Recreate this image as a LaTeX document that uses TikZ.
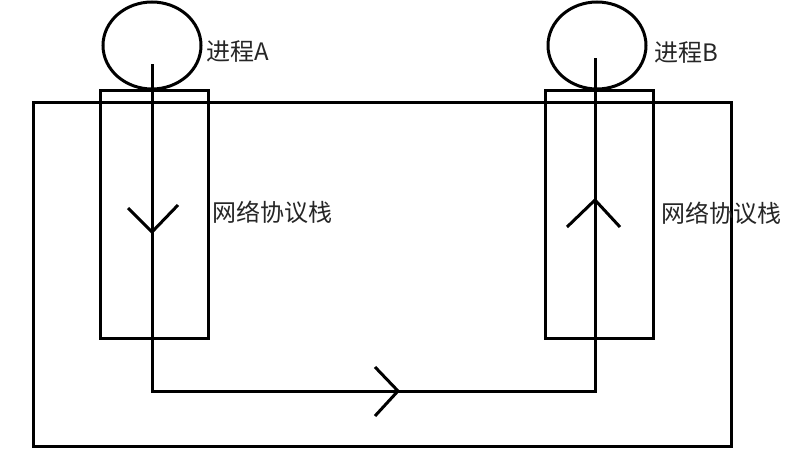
\documentclass[tikz,border=0pt]{standalone}
\usepackage{fontspec}
\newfontfamily\cjk{Noto Sans CJK SC}
\usetikzlibrary{shapes.geometric}
\begin{document}
\begin{tikzpicture}[x=1pt,y=-1pt,
  stroke/.style={line width=3pt,black},
  proc/.style={stroke,draw,ellipse,inner sep=0pt,minimum width=98pt,minimum height=87pt},
  stackbox/.style={stroke,draw,rectangle,inner sep=0pt,minimum width=108pt,minimum height=248pt},
  lbl/.style={anchor=west,inner sep=0pt,text=black!85,font=\cjk\fontsize{24}{28}\selectfont}]
\useasboundingbox (0,0) rectangle (796,466);
\fill[white] (0,0) rectangle (796,466);
% outer frame
\node[stroke,draw,rectangle,inner sep=0pt,minimum width=698pt,minimum height=344pt] (frame) at (382,274) {};
% stacks
\node[stackbox] (stackA) at (154,214) {};
\node[stackbox] (stackB) at (599,214) {};
% processes
\node[proc] (procA) at (152,45.5) {};
\node[proc] (procB) at (597,45.5) {};
% labels
\node[lbl] (labA) at (206,52) {进程A};
\node[lbl] (labB) at (654,53) {进程B};
\node[lbl] (netA) at (212,212) {网络协议栈};
\node[lbl] (netB) at (661,213) {网络协议栈};
% path coordinates
\coordinate (a0) at (152,64);
\coordinate (a1) at (152,391);
\coordinate (b1) at (595,391);
\coordinate (b0) at (595,58);
\draw[stroke] (a0) -- (a1) -- (b1) -- (b0);
% chevrons
\coordinate (tA) at (152,232);
\coordinate (tB) at (595,200);
\coordinate (tM) at (398,391);
\draw[stroke] (128,208) -- (tA) -- (178,205);
\draw[stroke] (567,227) -- (tB) -- (620,227);
\draw[stroke] (375,367) -- (tM) -- (375,416);
\end{tikzpicture}
\end{document}
